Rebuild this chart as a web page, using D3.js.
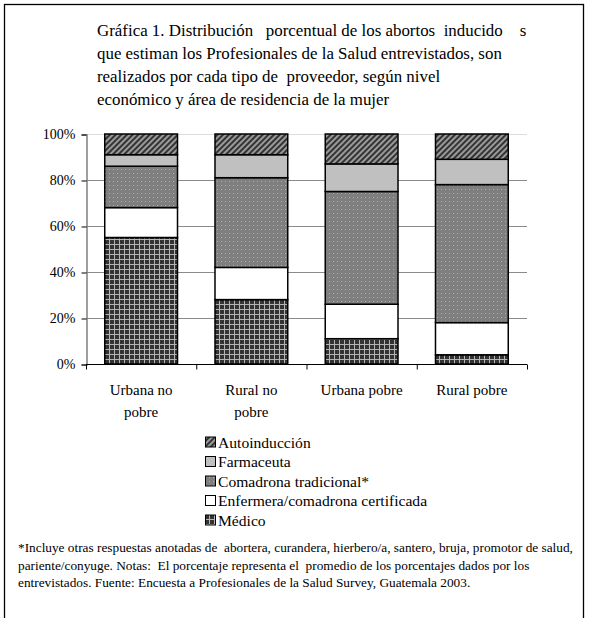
<!DOCTYPE html>
<html>
<head>
<meta charset="utf-8">
<script src="https://cdn.jsdelivr.net/npm/d3@7"></script>
<style>
html,body{margin:0;padding:0;background:#fff;}
svg{display:block;font-family:"Liberation Serif","Times New Roman",serif;}
</style>
</head>
<body>
<svg id="chart" width="589" height="618"></svg>
<script>
// ---- Data ----
const categories = ["Urbana no pobre", "Rural no pobre", "Urbana pobre", "Rural pobre"];
const categoryLabelLines = [["Urbana no", "pobre"], ["Rural no", "pobre"], ["Urbana pobre"], ["Rural pobre"]];
const seriesNames = ["Médico", "Enfermera/comadrona certificada", "Comadrona tradicional*", "Farmaceuta", "Autoinducción"];
const medico = [55, 28, 11, 4];
const enfermera = [13, 14, 15, 14];
const comadrona = [18, 39, 49, 60];
const farmaceuta = [5, 10, 12, 11];
const autoinduccion = [9, 9, 13, 11];
const yTicks = [0, 20, 40, 60, 80, 100];
const titleLines = [
  "Gráfica 1. Distribución   porcentual de los abortos  inducido    s",
  "que estiman los Profesionales de la Salud entrevistados, son",
  "realizados por cada tipo de  proveedor, según nivel",
  "económico y área de residencia de la mujer"
];
const footLines = [
  "*Incluye otras respuestas anotadas de  abortera, curandera, hierbero/a, santero, bruja, promotor de salud,",
  "pariente/conyuge. Notas:  El porcentaje representa el  promedio de los porcentajes dados por los",
  "entrevistados. Fuente: Encuesta a Profesionales de la Salud Survey, Guatemala 2003."
];

const seriesValues = [medico, enfermera, comadrona, farmaceuta, autoinduccion];
const table = categories.map((c, i) => {
  const row = {category: c};
  seriesNames.forEach((s, j) => row[s] = seriesValues[j][i]);
  return row;
});

const svg = d3.select("#chart");

// ---- Patterns ----
const defs = svg.append("defs");
const pMed = defs.append("pattern").attr("id", "pMed").attr("patternUnits", "userSpaceOnUse")
  .attr("width", 5).attr("height", 5);
pMed.append("rect").attr("width", 5).attr("height", 5).attr("fill", "#333");
pMed.append("rect").attr("x", 4).attr("width", 1).attr("height", 5).attr("fill", "#b4b4b4");
pMed.append("rect").attr("y", 4).attr("width", 5).attr("height", 1).attr("fill", "#b4b4b4");
const pCom = defs.append("pattern").attr("id", "pCom").attr("patternUnits", "userSpaceOnUse")
  .attr("width", 4).attr("height", 4);
pCom.append("rect").attr("width", 4).attr("height", 4).attr("fill", "#7f7f7f");
pCom.append("rect").attr("x", 1).attr("y", 1).attr("width", 1).attr("height", 1).attr("fill", "#b0b0b0");
const pAuto = defs.append("pattern").attr("id", "pAuto").attr("patternUnits", "userSpaceOnUse")
  .attr("width", 4).attr("height", 4).attr("patternTransform", "rotate(45)");
pAuto.append("rect").attr("width", 4).attr("height", 4).attr("fill", "#9a9a9a");
pAuto.append("rect").attr("width", 2).attr("height", 4).attr("fill", "#333");

const fills = ["url(#pMed)", "#ffffff", "url(#pCom)", "#c0c0c0", "url(#pAuto)"];

// ---- Frame ----
svg.append("rect").attr("x", 4.5).attr("y", 4.5).attr("width", 579).attr("height", 640)
  .attr("fill", "none").attr("stroke", "#000").attr("stroke-width", 1.3);

// ---- Title ----
const title = svg.append("text").attr("font-size", 16.9).attr("fill", "#000")
  .style("white-space", "pre");
titleLines.forEach((t, i) => {
  title.append("tspan").attr("x", 97).attr("y", 36 + i * 23).text(t);
});

// ---- Scales ----
const x = d3.scaleBand().domain(categories).range([86, 527]).paddingInner(0.34).paddingOuter(0.17);
const y = d3.scaleLinear().domain([0, 100]).range([364, 134]);

// gridlines
svg.append("g").selectAll("line").data(yTicks.filter(d => d > 0)).join("line")
  .attr("x1", 86).attr("x2", 527)
  .attr("y1", d => y(d) + 0.5).attr("y2", d => y(d) + 0.5)
  .attr("stroke", d => d === 100 ? "#dcdcdc" : "#8a8a8a").attr("stroke-width", 1);

// bars
const stack = d3.stack().keys(seriesNames)(table);
svg.append("g").selectAll("g").data(stack).join("g")
  .attr("fill", (d, i) => fills[i])
  .selectAll("rect").data(d => d).join("rect")
  .attr("x", d => x(d.data.category))
  .attr("width", x.bandwidth())
  .attr("y", d => y(d[1]))
  .attr("height", d => y(d[0]) - y(d[1]))
  .attr("stroke", "#000").attr("stroke-width", 1.5);

// y axis
const yAxis = d3.axisLeft(y).tickValues(yTicks).tickSize(5).tickPadding(6).tickFormat(d => d + "%");
const yg = svg.append("g").attr("transform", "translate(86.5,0.5)").call(yAxis);
yg.select(".domain").attr("stroke", "#808080").attr("stroke-width", 1.5);
yg.selectAll(".tick line").attr("stroke", "#000");
yg.selectAll(".tick text").attr("font-size", 14).attr("font-family", "Liberation Serif, serif").attr("fill", "#000");

// x axis
const xAxisLine = svg.append("g").attr("transform", "translate(0,364.5)");
xAxisLine.append("line").attr("x1", 86).attr("x2", 527).attr("stroke", "#000").attr("stroke-width", 1);
const bounds = categories.map(c => x(c) - x.step() * x.paddingInner() / 2).concat([527]);
xAxisLine.selectAll("line.tk").data(bounds).join("line").attr("class", "tk")
  .attr("x1", d => d + 0.5).attr("x2", d => d + 0.5).attr("y1", 0).attr("y2", 5)
  .attr("stroke", "#000");

// category labels
const cl = svg.append("g").attr("font-size", 15).attr("text-anchor", "middle");
categories.forEach((c, i) => {
  const t = cl.append("text");
  categoryLabelLines[i].forEach((line, k) => {
    t.append("tspan").attr("x", x(c) + x.bandwidth() / 2).attr("y", 395 + k * 22).text(line);
  });
});

// legend
const legendOrder = seriesNames.map((s, i) => i).reverse();
const lg = svg.append("g").attr("font-size", 15.6);
legendOrder.forEach((si, r) => {
  const cy = 442 + r * 19.5;
  lg.append("rect").attr("x", 205.5).attr("y", cy - 5).attr("width", 10).attr("height", 10)
    .attr("fill", fills[si]).attr("stroke", "#000").attr("stroke-width", 1);
  lg.append("text").attr("x", 218).attr("y", cy + 5.5).text(seriesNames[si]);
});

// footnote
const fn = svg.append("text").attr("font-size", 13.3).style("white-space", "pre");
footLines.forEach((t, i) => {
  fn.append("tspan").attr("x", 18).attr("y", 552 + i * 17.5).text(t);
});
</script>
</body>
</html>
